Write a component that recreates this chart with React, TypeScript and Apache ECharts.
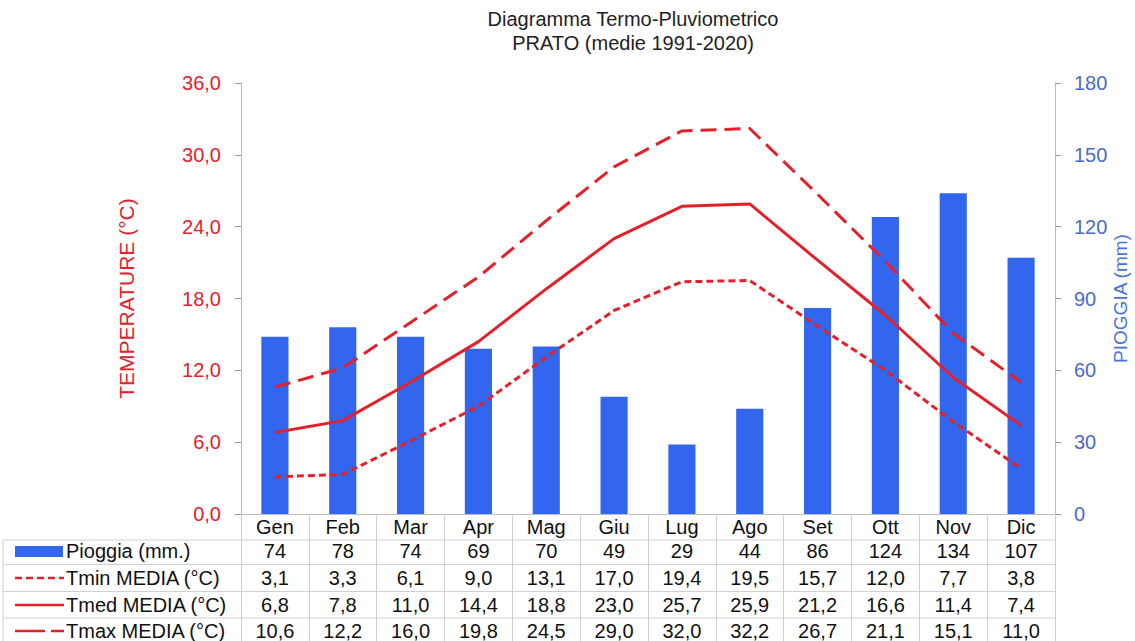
import React, { useEffect, useRef } from "react";
import * as echarts from "echarts";

const months = ["Gen", "Feb", "Mar", "Apr", "Mag", "Giu", "Lug", "Ago", "Set", "Ott", "Nov", "Dic"];
const pioggia = [74, 78, 74, 69, 70, 49, 29, 44, 86, 124, 134, 107];
const tmin = [3.1, 3.3, 6.1, 9.0, 13.1, 17.0, 19.4, 19.5, 15.7, 12.0, 7.7, 3.8];
const tmed = [6.8, 7.8, 11.0, 14.4, 18.8, 23.0, 25.7, 25.9, 21.2, 16.6, 11.4, 7.4];
const tmax = [10.6, 12.2, 16.0, 19.8, 24.5, 29.0, 32.0, 32.2, 26.7, 21.1, 15.1, 11.0];
const rowLabels = ["Pioggia (mm.)", "Tmin MEDIA (°C)", "Tmed MEDIA (°C)", "Tmax MEDIA (°C)"];

const RED = "#e3212b";
const BLUE = "#3366ee";
const FONT = '"Liberation Sans", Arial, sans-serif';

const fmt1 = (v: number) => v.toFixed(1).replace(".", ",");

export default function App() {
  const ref = useRef<HTMLDivElement>(null);
  useEffect(() => {
    document.body.style.margin = "0";
    const chart = echarts.init(ref.current!, null, { renderer: "svg" });
    const option: any = {
      animation: false,
      backgroundColor: "#ffffff",
      textStyle: { fontFamily: FONT },
      grid: { left: 241, right: 80, top: 83, bottom: 127, outerBoundsMode: "none" },
      xAxis: {
        type: "category",
        data: months,
        boundaryGap: true,
        axisLine: { show: true, lineStyle: { color: "#bdbdbd", width: 1 } },
        axisTick: { show: true, length: 127, lineStyle: { color: "#cfcfcf", width: 1 } },
        axisLabel: { color: "#111", fontSize: 20, fontFamily: FONT, margin: 3 },
      },
      yAxis: [
        {
          type: "value",
          min: 0,
          max: 36,
          interval: 6,
          name: "TEMPERATURE (°C)",
          nameLocation: "middle",
          nameGap: 104,
          nameMoveOverlap: false,
          nameTextStyle: { color: RED, fontSize: 21, fontFamily: FONT },
          axisLine: { show: true, lineStyle: { color: "#bdbdbd", width: 1 } },
          axisTick: { show: true, length: 6, lineStyle: { color: "#999" } },
          axisLabel: { color: RED, fontSize: 20, fontFamily: FONT, margin: 20, formatter: (v: number) => fmt1(v) },
          splitLine: { show: false },
        },
        {
          type: "value",
          min: 0,
          max: 180,
          interval: 30,
          name: "PIOGGIA (mm)",
          nameLocation: "middle",
          nameGap: 56,
          nameMoveOverlap: false,
          nameTextStyle: { color: "#4472e0", fontSize: 19, fontFamily: FONT },
          axisLine: { show: true, lineStyle: { color: "#bdbdbd", width: 1 } },
          axisTick: { show: true, length: 6, lineStyle: { color: "#999" } },
          axisLabel: { color: "#4a6bc9", fontSize: 20, fontFamily: FONT, margin: 19 },
          splitLine: { show: false },
        },
      ],
      series: [
        {
          name: "Pioggia (mm.)",
          type: "bar",
          yAxisIndex: 1,
          data: pioggia,
          barWidth: "40%",
          itemStyle: { color: BLUE },
        },
        {
          name: "Tmin MEDIA (°C)",
          type: "line",
          yAxisIndex: 0,
          data: tmin,
          symbol: "none",
          lineStyle: { color: RED, width: 3, type: [7, 4] },
        },
        {
          name: "Tmed MEDIA (°C)",
          type: "line",
          yAxisIndex: 0,
          data: tmed,
          symbol: "none",
          lineStyle: { color: RED, width: 3 },
        },
        {
          name: "Tmax MEDIA (°C)",
          type: "line",
          yAxisIndex: 0,
          data: tmax,
          symbol: "none",
          lineStyle: { color: RED, width: 3, type: [16, 8] },
        },
      ],
    };
    chart.setOption(option);

    const xs = months.map((_, i) => chart.convertToPixel({ xAxisIndex: 0 }, i) as number);
    const rightEdge = 1055;
    const rowY = [551, 578, 605, 631];
    const lineY = [540, 564.5, 591.5, 618];
    const rows = [
      pioggia.map((v) => String(v)),
      tmin.map(fmt1),
      tmed.map(fmt1),
      tmax.map(fmt1),
    ];
    const g: any[] = [];
    g.push({
      type: "text",
      x: 633,
      y: 7,
      silent: true,
      style: {
        text: "Diagramma Termo-Pluviometrico\nPRATO (medie 1991-2020)",
        fill: "#222",
        font: `20px ${FONT}`,
        align: "center",
        verticalAlign: "top",
        lineHeight: 24,
      },
    });
    lineY.forEach((y) => {
      g.push({
        type: "line",
        silent: true,
        shape: { x1: 3, y1: y, x2: rightEdge, y2: y },
        style: { stroke: "#d0d0d0", lineWidth: 1 },
      });
    });
    g.push({
      type: "line",
      silent: true,
      shape: { x1: 3, y1: 540, x2: 3, y2: 641 },
      style: { stroke: "#d0d0d0", lineWidth: 1 },
    });
    rows.forEach((vals, r) => {
      vals.forEach((t, i) => {
        g.push({
          type: "text",
          x: xs[i],
          y: rowY[r],
          silent: true,
          style: { text: t, fill: "#111", font: `20px ${FONT}`, align: "center", verticalAlign: "middle" },
        });
      });
      g.push({
        type: "text",
        x: 66,
        y: rowY[r],
        silent: true,
        style: { text: rowLabels[r], fill: "#111", font: `20px ${FONT}`, align: "left", verticalAlign: "middle" },
      });
    });
    // legend keys
    g.push({ type: "rect", silent: true, shape: { x: 15, y: 546, width: 48, height: 11 }, style: { fill: BLUE } });
    g.push({
      type: "line",
      silent: true,
      shape: { x1: 15, y1: 578, x2: 64, y2: 578 },
      style: { stroke: RED, lineWidth: 2.5, lineDash: [7, 4] },
    });
    g.push({
      type: "line",
      silent: true,
      shape: { x1: 15, y1: 605, x2: 64, y2: 605 },
      style: { stroke: RED, lineWidth: 2.5 },
    });
    g.push({
      type: "line",
      silent: true,
      shape: { x1: 15, y1: 631, x2: 64, y2: 631 },
      style: { stroke: RED, lineWidth: 2.5, lineDash: [30, 6] },
    });
    chart.setOption({ graphic: g });
    return () => chart.dispose();
  }, []);
  return <div ref={ref} style={{ width: 1135, height: 641 }} />;
}
